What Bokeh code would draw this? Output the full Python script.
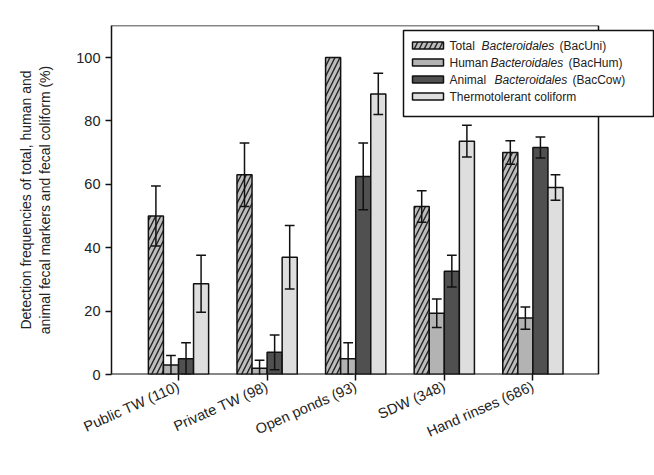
from bokeh.plotting import figure
from bokeh.models import Range1d, FixedTicker
from bokeh.core.properties import value
from bokeh.embed import file_html
from bokeh.resources import INLINE

categories = ["Public TW (110)", "Private TW (98)", "Open ponds (93)", "SDW (348)", "Hand rinses (686)"]
total = [50, 63, 100, 53, 70]
total_err = [9.5, 10, 0, 5, 3.7]
human = [3, 2, 5, 19.3, 17.8]
human_err = [3, 2.5, 5, 4.5, 3.5]
animal = [5, 7, 62.5, 32.6, 71.6]
animal_err = [5, 5.5, 10.5, 5, 3.3]
thermo = [28.6, 37, 88.5, 73.6, 59]
thermo_err = [9, 10, 6.5, 5, 4]

series = [
    (total, total_err, "#bdbdbd", True),
    (human, human_err, "#b3b3b3", False),
    (animal, animal_err, "#505050", False),
    (thermo, thermo_err, "#dedede", False),
]

# reference pixel -> data helpers (for the hand-built legend and frame)
def dx(px):
    return (px - 178) / 88.6

def dy(py):
    return (374 - py) / 3.17

p = figure(width=654, height=470, output_backend="svg", toolbar_location=None,
           x_range=Range1d(dx(111), dx(654)), y_range=Range1d(0, dy(25)),
           min_border_left=111, min_border_top=25, min_border_bottom=96, min_border_right=0)
p.grid.visible = False
p.outline_line_color = None

w = 0.17
xs = list(range(len(categories)))
for k, (vals, errs, color, hatched) in enumerate(series):
    off = (k - 1.5) * w
    x = [i + off for i in xs]
    kw = dict(hatch_pattern="/", hatch_scale=10, hatch_color="#222222", hatch_weight=1.4) if hatched else {}
    p.vbar(x=x, top=vals, width=w, fill_color=color, line_color="#111111", line_width=1.5, **kw)
    lo = [v - e for v, e in zip(vals, errs)]
    hi = [v + e for v, e in zip(vals, errs)]
    keep = [j for j in xs if errs[j] > 0]
    xe = [x[j] for j in keep]
    p.segment(x0=xe, y0=[lo[j] for j in keep], x1=xe, y1=[hi[j] for j in keep], line_color="#111111", line_width=1.5)
    for ys in (lo, hi):
        p.segment(x0=[v - 0.055 for v in xe], y0=[ys[j] for j in keep], x1=[v + 0.055 for v in xe],
                  y1=[ys[j] for j in keep], line_color="#111111", line_width=1.5)

# chart frame: top, right and bottom lines
p.line([dx(111), dx(598)], [dy(25), dy(25)], line_color="#111111", line_width=1.5)
p.line([dx(598), dx(598)], [0, dy(25)], line_color="#111111", line_width=1.5)
p.line([dx(111), dx(598)], [0, 0], line_color="#111111", line_width=2)

# legend
p.quad(left=dx(403), right=dx(653), top=dy(30), bottom=dy(116), fill_color="white", line_color="#111111", line_width=1.5)
rows = [45, 62, 79, 96]
labels = [("Total", "Bacteroidales", "(BacUni)", 481, 559),
          ("Human", "Bacteroidales", "(BacHum)", 490, 568),
          ("Animal", "Bacteroidales", "(BacCow)", 494, 572),
          ("Thermotolerant coliform", "", "", 0, 0)]
for (vals, errs, color, hatched), ry, (a, b, c, xb, xc) in zip(series, rows, labels):
    kw = dict(hatch_pattern="/", hatch_scale=10, hatch_color="#222222", hatch_weight=1.4) if hatched else {}
    p.quad(left=dx(412), right=dx(443), top=dy(ry - 3.5), bottom=dy(ry + 3.5), fill_color=color,
           line_color="#111111", line_width=1.5, **kw)
    tk = dict(text_font=value("Liberation Sans"), text_font_size="12px", text_color="#222222", text_baseline="middle")
    p.text(x=[dx(449)], y=[dy(ry)], text=[a], **tk)
    if b:
        p.text(x=[dx(xb)], y=[dy(ry)], text=[b], text_font_style="italic", **tk)
        p.text(x=[dx(xc)], y=[dy(ry)], text=[c], **tk)

p.yaxis.ticker = FixedTicker(ticks=[0, 20, 40, 60, 80, 100])
p.xaxis.ticker = FixedTicker(ticks=xs)
p.xaxis.major_label_overrides = {i: c for i, c in enumerate(categories)}
p.xaxis.major_label_orientation = 0.42
p.yaxis.axis_label = "Detection frequencies of total, human and\nanimal fecal markers and fecal coliform (%)"
for ax in (p.xaxis, p.yaxis):
    ax.axis_line_color = "#111111"
    ax.axis_line_width = 1.5
    ax.major_tick_line_color = "#111111"
    ax.major_tick_line_width = 1.5
    ax.major_tick_out = 6
    ax.major_tick_in = 0
    ax.minor_tick_line_color = None
    ax.major_label_text_font = "Liberation Sans"
    ax.major_label_text_font_size = "14.5px"
    ax.major_label_text_color = "#222222"
p.xaxis.axis_line_color = None
p.yaxis.axis_label_text_font = "Liberation Sans"
p.yaxis.axis_label_text_font_size = "14px"
p.yaxis.axis_label_text_font_style = "normal"
p.yaxis.axis_label_text_color = "#222222"
p.yaxis.axis_label_standoff = 20

open("out.html", "w").write(file_html(p, INLINE))
